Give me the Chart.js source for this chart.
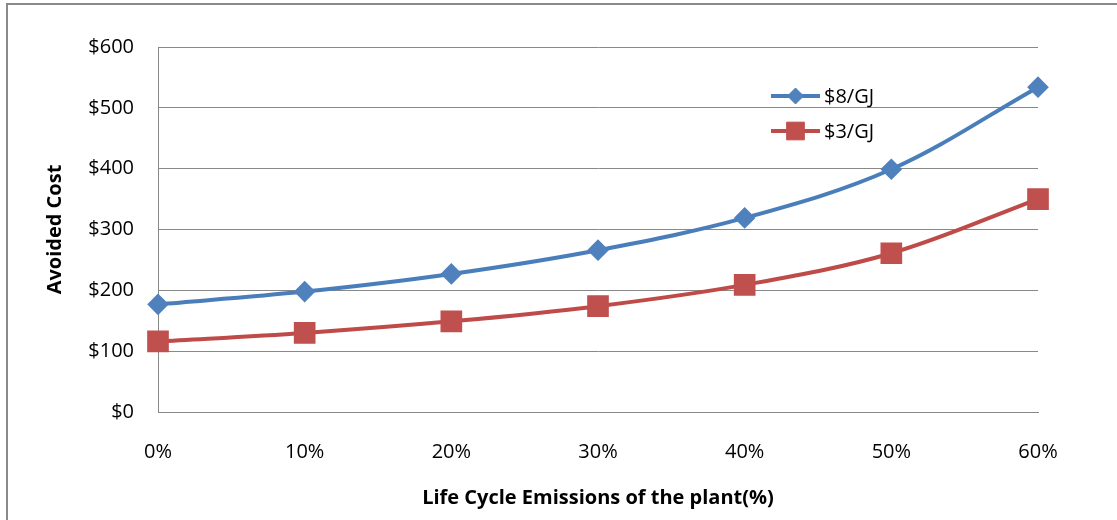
<!DOCTYPE html>
<html>
<head>
<meta charset="utf-8">
<script src="https://cdn.jsdelivr.net/npm/chart.js@4/dist/chart.umd.min.js"></script>
<style>
  html, body { margin: 0; padding: 0; background: #fff; }
  #wrap { position: relative; width: 1117px; height: 520px; }
  #frame {
    position: absolute; left: 6px; top: 3px; right: 0; bottom: 0;
    border-left: 2px solid #8a8a8a; border-top: 2px solid #8a8a8a;
    pointer-events: none;
  }
</style>
</head>
<body>
<div id="wrap">
  <canvas id="chart" width="1117" height="520"></canvas>
  <div id="frame"></div>
</div>
<script>
// chart values
const categories = ['0%', '10%', '20%', '30%', '40%', '50%', '60%'];
const seriesNames = ['$8/GJ', '$3/GJ'];
const cost8 = [177, 198, 227, 266, 319, 399, 534];
const cost3 = [116, 130, 149, 174, 209, 261, 350];
const yTicks = [0, 100, 200, 300, 400, 500, 600];

const blue = '#4A7EBB';
const blueFill = '#4F81BD';
const red = '#BE4B48';
const redFill = '#C0504D';
const gridColor = '#888888';
const fontFamily = "'Open Sans', 'DejaVu Sans', sans-serif";

// legend drawn inside the plot, like the original
const insideLegend = {
    id: 'insideLegend',
    afterDraw(c) {
        const ctx = c.ctx;
        const items = c.data.datasets.map((ds) => ({
            text: ds.label,
            color: ds.borderColor,
            fill: ds.pointBackgroundColor,
            style: ds.pointStyle,
            radius: ds.pointRadius,
        }));
        const x0 = 771, x1 = 820;
        let y = 96;
        ctx.save();
        items.forEach((item) => {
            ctx.strokeStyle = item.color;
            ctx.lineWidth = 4;
            ctx.beginPath();
            ctx.moveTo(x0, y);
            ctx.lineTo(x1, y);
            ctx.stroke();
            ctx.fillStyle = item.fill;
            ctx.strokeStyle = item.fill;
            ctx.lineWidth = 1;
            Chart.helpers.drawPoint(ctx, { pointStyle: item.style, radius: item.radius, rotation: 0, borderWidth: 1 }, (x0 + x1) / 2, y);
            ctx.fillStyle = '#000';
            ctx.font = '20px ' + fontFamily;
            ctx.textAlign = 'left';
            ctx.textBaseline = 'middle';
            ctx.fillText(item.text, x1 + 4, y + 1);
            y += 35;
        });
        ctx.restore();
    },
};

const ctx = document.getElementById('chart');
const chart = new Chart(ctx, {
    type: 'line',
    data: {
        labels: categories,
        datasets: [
            {
                label: seriesNames[0],
                data: cost8,
                borderColor: blue,
                backgroundColor: blueFill,
                pointBackgroundColor: blueFill,
                pointBorderColor: blueFill,
                pointStyle: 'rectRot',
                pointRadius: 8,
                borderWidth: 4,
                tension: 0.35,
            },
            {
                label: seriesNames[1],
                data: cost3,
                borderColor: red,
                backgroundColor: redFill,
                pointBackgroundColor: redFill,
                pointBorderColor: redFill,
                pointStyle: 'rect',
                pointRadius: 12.5,
                borderWidth: 4,
                tension: 0.35,
            },
        ],
    },
    options: {
        responsive: false,
        animation: false,
        layout: {
            padding: { top: 47, right: 79, bottom: 0, left: 0 },
        },
        plugins: {
            legend: { display: false },
            tooltip: { enabled: false },
        },
        scales: {
            x: {
                offset: false,
                grid: { display: false, drawTicks: false },
                border: { display: true, color: gridColor, width: 1 },
                ticks: {
                    color: '#000',
                    font: { family: fontFamily, size: 20 },
                    padding: 28,
                    maxRotation: 0,
                },
                title: {
                    display: true,
                    text: 'Life Cycle Emissions of the plant(%)',
                    color: '#000',
                    font: { family: fontFamily, size: 20, weight: 'bold' },
                    padding: { top: 0, bottom: 10 },
                },
                afterFit(scale) { scale.height = 108; },
            },
            y: {
                min: 0,
                max: 600,
                afterBuildTicks(scale) {
                    scale.ticks = yTicks.map((v) => ({ value: v }));
                },
                grid: { color: gridColor, lineWidth: 1, drawTicks: false },
                border: { display: true, color: gridColor, width: 1 },
                ticks: {
                    color: '#000',
                    font: { family: fontFamily, size: 20 },
                    padding: 24,
                    callback: (v) => '$' + v,
                },
                title: {
                    display: true,
                    text: 'Avoided Cost',
                    color: '#000',
                    font: { family: fontFamily, size: 20, weight: 'bold' },
                    padding: { top: 43, bottom: 0 },
                },
                afterFit(scale) { scale.width = 158; },
            },
        },
    },
    plugins: [insideLegend],
});
</script>
</body>
</html>
